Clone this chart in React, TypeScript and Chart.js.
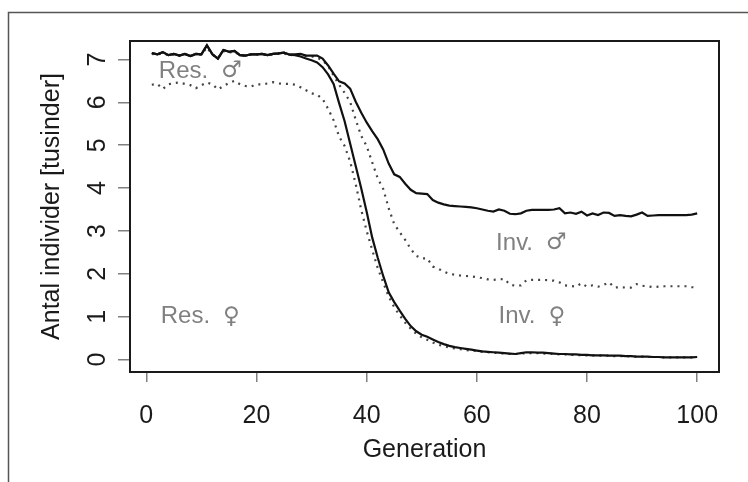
import React, { useEffect, useRef } from "react";
import { Chart, registerables } from "chart.js";

Chart.register(...registerables);

const generations = [
  1, 2, 3, 4, 5, 6, 7, 8, 9, 10, 11, 12, 13, 14, 15, 16, 17, 18, 19, 20,
  21, 22, 23, 24, 25, 26, 27, 28, 29, 30, 31, 32, 33, 34, 35, 36, 37, 38, 39, 40,
  41, 42, 43, 44, 45, 46, 47, 48, 49, 50, 51, 52, 53, 54, 55, 56, 57, 58, 59, 60,
  61, 62, 63, 64, 65, 66, 67, 68, 69, 70, 71, 72, 73, 74, 75, 76, 77, 78, 79, 80,
  81, 82, 83, 84, 85, 86, 87, 88, 89, 90, 91, 92, 93, 94, 95, 96, 97, 98, 99, 100,
];

// solid line ending near 3.4
const solidUpper = [
  7.15, 7.12, 7.17, 7.10, 7.13, 7.09, 7.13, 7.08, 7.13, 7.12,
  7.33, 7.12, 7.02, 7.22, 7.18, 7.20, 7.10, 7.09, 7.12, 7.12,
  7.13, 7.10, 7.13, 7.14, 7.16, 7.11, 7.12, 7.13, 7.09, 7.09,
  7.09, 7.02, 6.86, 6.67, 6.49, 6.44, 6.32, 6.02, 5.76, 5.53,
  5.33, 5.14, 4.90, 4.57, 4.32, 4.26, 4.10, 3.96, 3.88, 3.87,
  3.86, 3.72, 3.66, 3.62, 3.59, 3.58, 3.57, 3.56, 3.55, 3.53,
  3.50, 3.47, 3.45, 3.50, 3.47, 3.40, 3.39, 3.41, 3.47, 3.49,
  3.49, 3.49, 3.49, 3.50, 3.53, 3.41, 3.43, 3.40, 3.45, 3.36,
  3.41, 3.37, 3.43, 3.42, 3.35, 3.37, 3.35, 3.34, 3.38, 3.43,
  3.35, 3.36, 3.37, 3.37, 3.37, 3.37, 3.37, 3.37, 3.38, 3.41,
];

// solid line falling to ~0
const solidLower = [
  7.15, 7.12, 7.17, 7.10, 7.13, 7.09, 7.13, 7.08, 7.13, 7.12,
  7.33, 7.12, 7.02, 7.22, 7.18, 7.20, 7.10, 7.09, 7.12, 7.12,
  7.13, 7.10, 7.13, 7.14, 7.16, 7.11, 7.10, 7.07, 7.02, 6.98,
  6.93, 6.82, 6.65, 6.43, 5.98, 5.56, 5.04, 4.52, 4.00, 3.45,
  2.85, 2.38, 1.95, 1.57, 1.34, 1.14, 0.95, 0.78, 0.66, 0.58,
  0.53, 0.47, 0.41, 0.36, 0.32, 0.29, 0.27, 0.25, 0.23, 0.21,
  0.19, 0.18, 0.17, 0.16, 0.15, 0.14, 0.13, 0.15, 0.17, 0.17,
  0.16, 0.16, 0.15, 0.14, 0.13, 0.13, 0.12, 0.12, 0.11, 0.11,
  0.10, 0.10, 0.10, 0.09, 0.09, 0.09, 0.08, 0.08, 0.07, 0.07,
  0.07, 0.06, 0.06, 0.05, 0.05, 0.05, 0.05, 0.05, 0.05, 0.06,
];

// dotted line ending near 1.7
const dottedUpper = [
  7.13, 7.11, 7.15, 7.10, 7.12, 7.09, 7.12, 7.08, 7.12, 7.11,
  7.28, 7.11, 7.03, 7.19, 7.16, 7.18, 7.10, 7.09, 7.11, 7.11,
  7.12, 7.10, 7.12, 7.13, 7.14, 7.10, 7.11, 7.12, 7.08, 7.07,
  7.04, 6.98, 6.85, 6.62, 6.41, 6.22, 6.01, 5.60, 5.22, 4.98,
  4.60, 4.23, 3.98, 3.53, 3.16, 2.97, 2.79, 2.58, 2.42, 2.36,
  2.36, 2.17, 2.12, 2.05, 2.00, 1.98, 1.96, 1.95, 1.94, 1.92,
  1.90, 1.87, 1.86, 1.87, 1.88, 1.75, 1.72, 1.73, 1.85, 1.86,
  1.86, 1.86, 1.85, 1.84, 1.80, 1.73, 1.72, 1.70, 1.78, 1.70,
  1.73, 1.70, 1.74, 1.80, 1.68, 1.69, 1.68, 1.68, 1.76, 1.72,
  1.71, 1.69, 1.70, 1.71, 1.71, 1.71, 1.71, 1.71, 1.69, 1.68,
];

// dotted line from ~6.4 falling to ~0
const dottedLower = [
  6.41, 6.43, 6.31, 6.42, 6.45, 6.46, 6.43, 6.40, 6.33, 6.40,
  6.46, 6.42, 6.30, 6.38, 6.45, 6.50, 6.42, 6.38, 6.37, 6.42,
  6.42, 6.44, 6.47, 6.44, 6.43, 6.43, 6.41, 6.35, 6.28, 6.21,
  6.18, 6.08, 5.85, 5.58, 5.20, 4.98, 4.62, 4.10, 3.50, 3.00,
  2.56, 2.14, 1.80, 1.47, 1.22, 1.03, 0.86, 0.72, 0.60, 0.52,
  0.46, 0.40, 0.35, 0.31, 0.28, 0.26, 0.24, 0.22, 0.21, 0.20,
  0.18, 0.17, 0.16, 0.15, 0.14, 0.13, 0.13, 0.14, 0.15, 0.15,
  0.15, 0.14, 0.14, 0.13, 0.12, 0.12, 0.11, 0.11, 0.10, 0.10,
  0.10, 0.09, 0.09, 0.09, 0.08, 0.08, 0.08, 0.07, 0.07, 0.07,
  0.06, 0.06, 0.06, 0.05, 0.05, 0.05, 0.05, 0.05, 0.05, 0.05,
];

const xTicks = [0, 20, 40, 60, 80, 100];
const yTicks = [0, 1, 2, 3, 4, 5, 6, 7];

const labelTexts = ["Res.", "Res.", "Inv.", "Inv."];
const labelSymbols = ["\u2642", "\u2640", "\u2642", "\u2640"];
const labelX = [9.8, 9.8, 69.9, 70];
const labelY = [6.72, 1.0, 2.72, 1.0];

const FONT = '"Liberation Sans", Arial, Helvetica, sans-serif';
const SYMBOL_FONT = 'bold 23px "DejaVu Sans", sans-serif';
const LABEL_FONT = `24px ${FONT}`;

const toPoints = (vals: number[]) => vals.map((v, i) => ({ x: generations[i], y: v }));

const decorPlugin = {
  id: "decor",
  beforeDatasetsDraw(chart: any) {
    const { ctx, scales } = chart;
    ctx.save();
    ctx.fillStyle = "#808080";
    ctx.textBaseline = "middle";
    ctx.textAlign = "left";
    const gap = 13;
    labelTexts.forEach((t, i) => {
      ctx.font = LABEL_FONT;
      const tw = ctx.measureText(t).width;
      ctx.font = SYMBOL_FONT;
      const sw = ctx.measureText(labelSymbols[i]).width;
      const cx = scales.x.getPixelForValue(labelX[i]);
      const cy = scales.y.getPixelForValue(labelY[i]);
      const x0 = cx - (tw + gap + sw) / 2;
      ctx.font = LABEL_FONT;
      ctx.fillText(t, x0, cy);
      ctx.font = SYMBOL_FONT;
      ctx.fillText(labelSymbols[i], x0 + tw + gap, cy);
    });
    ctx.restore();
  },
  afterDraw(chart: any) {
    const { ctx, chartArea } = chart;
    const { left, top, right, bottom } = chartArea;
    ctx.save();
    ctx.strokeStyle = "#555";
    ctx.lineWidth = 1.5;
    ctx.beginPath();
    ctx.moveTo(8.5, 482);
    ctx.lineTo(8.5, 12.5);
    ctx.lineTo(748, 12.5);
    ctx.stroke();
    ctx.strokeStyle = "#1a1a1a";
    ctx.lineWidth = 2;
    ctx.strokeRect(left, top, right - left, bottom - top);
    ctx.restore();
  },
};

export default function App() {
  const ref = useRef<HTMLCanvasElement | null>(null);

  useEffect(() => {
    if (!ref.current) return;
    const chart = new Chart(ref.current, {
      type: "line",
      data: {
        datasets: [
          {
            label: "solidUpper",
            data: toPoints(solidUpper),
            borderColor: "#111",
            borderWidth: 2.2,
            pointRadius: 0,
            tension: 0,
          },
          {
            label: "solidLower",
            data: toPoints(solidLower),
            borderColor: "#111",
            borderWidth: 2.2,
            pointRadius: 0,
            tension: 0,
          },
          {
            label: "dottedUpper",
            data: toPoints(dottedUpper),
            borderColor: "#444",
            borderWidth: 2.2,
            borderDash: [2, 5],
            pointRadius: 0,
            tension: 0,
          },
          {
            label: "dottedLower",
            data: toPoints(dottedLower),
            borderColor: "#444",
            borderWidth: 2.2,
            borderDash: [2, 5],
            pointRadius: 0,
            tension: 0,
          },
        ],
      },
      options: {
        responsive: false,
        animation: false,
        events: [],
        layout: { padding: { left: 0, right: 29, top: 41, bottom: 0 } },
        plugins: { legend: { display: false }, tooltip: { enabled: false } },
        scales: {
          x: {
            type: "linear",
            min: -2.96,
            max: 103.96,
            afterBuildTicks: (a: any) => {
              a.ticks = xTicks.map((v) => ({ value: v }));
            },
            afterFit: (a: any) => {
              a.height = 110;
            },
            grid: { drawOnChartArea: false, drawTicks: true, tickLength: 10, color: "#808080", lineWidth: 1.5 },
            border: { display: false },
            ticks: {
              font: { family: FONT, size: 25 },
              color: "#1a1a1a",
              padding: 19,
              minRotation: 0,
              maxRotation: 0,
              autoSkip: false,
            },
            title: {
              display: true,
              text: "Generation",
              font: { family: FONT, size: 25 },
              color: "#1a1a1a",
              padding: { top: 0, bottom: 17 },
            },
          },
          y: {
            type: "linear",
            min: -0.29,
            max: 7.43,
            afterBuildTicks: (a: any) => {
              a.ticks = yTicks.map((v) => ({ value: v }));
            },
            afterFit: (a: any) => {
              a.width = 130;
            },
            grid: { drawOnChartArea: false, drawTicks: true, tickLength: 12, color: "#808080", lineWidth: 1.5 },
            border: { display: false },
            ticks: {
              font: { family: FONT, size: 25 },
              color: "#1a1a1a",
              padding: 13,
              minRotation: 90,
              maxRotation: 90,
              crossAlign: "center",
              autoSkip: false,
            },
            title: {
              display: true,
              text: "Antal individer [tusinder]",
              font: { family: FONT, size: 25 },
              color: "#1a1a1a",
              padding: { top: 37, bottom: 0 },
            },
          },
        },
      },
      plugins: [decorPlugin],
    });
    return () => chart.destroy();
  }, []);

  return (
    <div style={{ position: "absolute", left: 0, top: 0, width: 748, height: 482, background: "#fff" }}>
      <canvas ref={ref} width={748} height={482} style={{ display: "block" }} />
    </div>
  );
}
